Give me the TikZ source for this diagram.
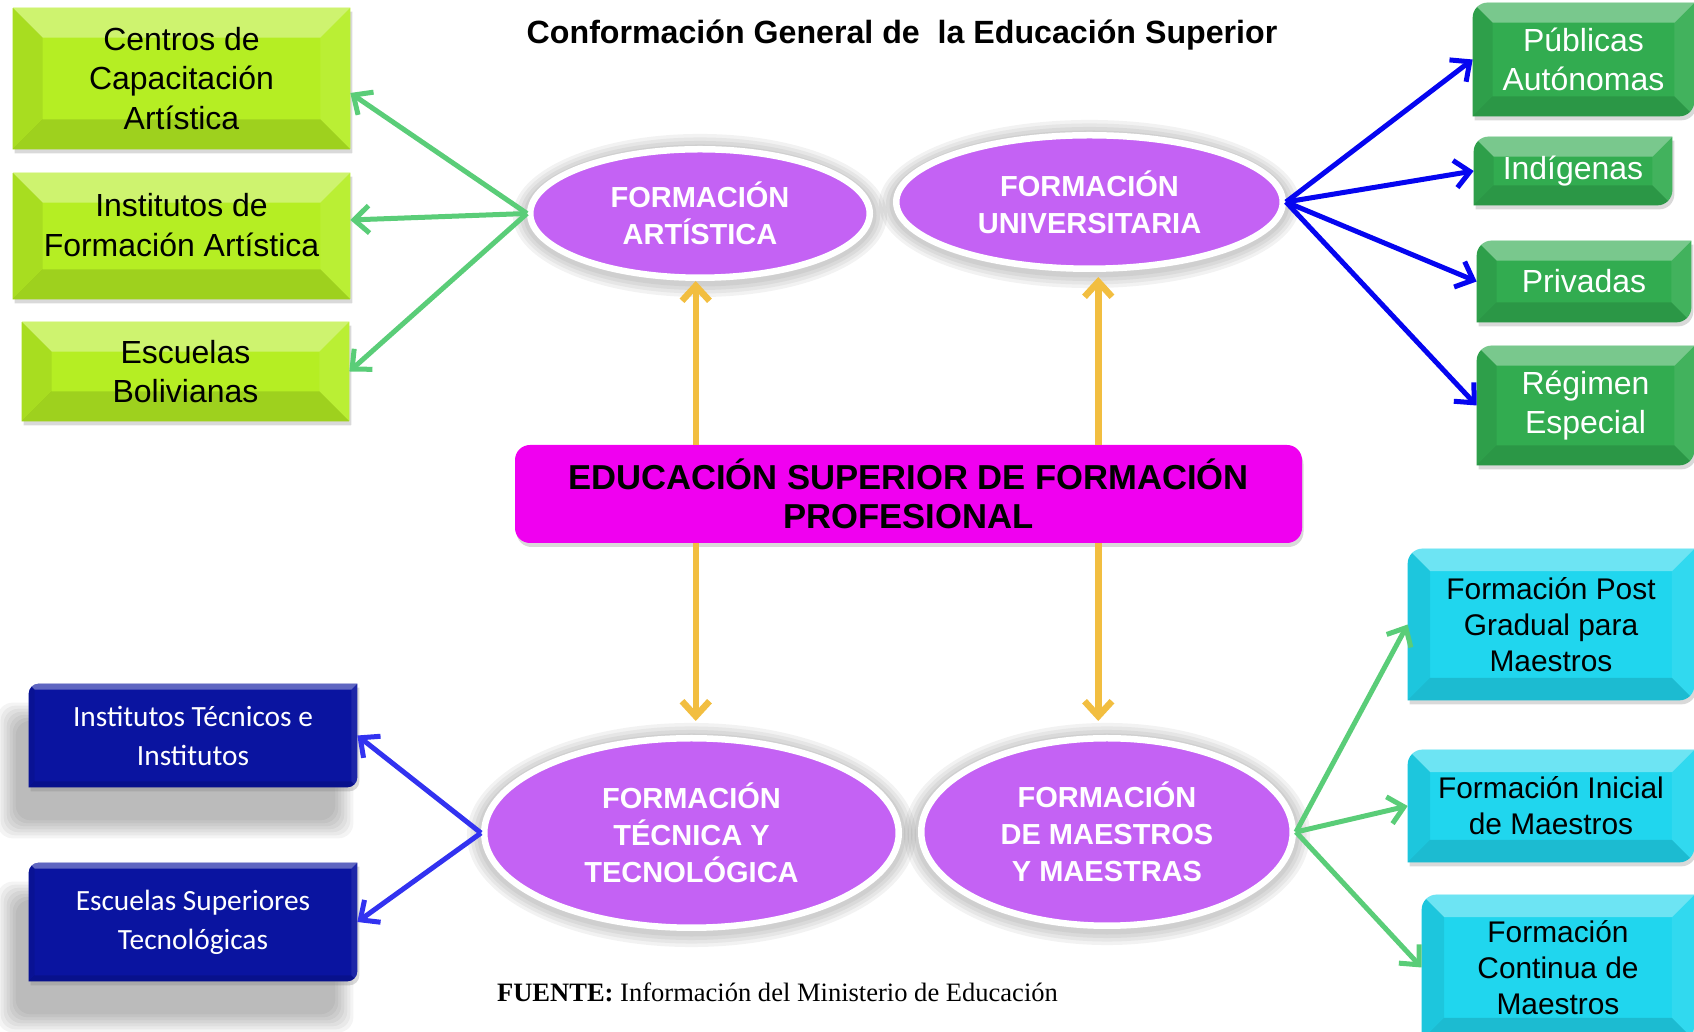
\documentclass[tikz,border=0pt]{standalone}
\usepackage{fontspec}
\setmainfont{Liberation Sans}
\newfontfamily\carlito{Carlito}
\newfontfamily\tnr{Liberation Serif}
\usetikzlibrary{calc}
\usetikzlibrary{shapes, arrows.meta, shadows, backgrounds}

\definecolor{limebox}{RGB}{181,238,35}
\definecolor{grnbox}{RGB}{50,172,80}
\definecolor{cyanbox}{RGB}{32,214,238}
\definecolor{navybox}{RGB}{10,20,160}
\definecolor{purpbox}{RGB}{196,98,244}
\definecolor{magbox}{RGB}{240,0,240}
\definecolor{ylwarr}{RGB}{242,190,64}
\definecolor{grnarr}{RGB}{90,205,120}
\definecolor{bluarr}{RGB}{5,5,240}
\definecolor{bluarrb}{RGB}{50,50,240}

% box outline with rounded north west and south east corners
\newcommand{\rdpath}[2]{($(#1.north west)+(0,-#2)$) arc[start angle=180,end angle=90,radius=#2] -- (#1.north east) -- ($(#1.south east)+(0,#2)$) arc[start angle=0,end angle=-90,radius=#2] -- (#1.south west) -- cycle}
% filled box with a bevel: node, colour, corner radius, bevel depth
\newcommand{\boxpanel}[4]{%
  \fill[#2, drop shadow={opacity=0.3, shadow xshift=0.04cm, shadow yshift=-0.08cm}] \rdpath{#1}{#3};
  \begin{scope}
    \clip \rdpath{#1}{#3};
    \fill[white, opacity=0.35] (#1.north west) -- (#1.north east) -- ++(-#4,-#4) -- ($(#1.north west)+(#4,-#4)$) -- cycle;
    \fill[black, opacity=0.12] (#1.south west) -- (#1.south east) -- ++(-#4,#4) -- ($(#1.south west)+(#4,#4)$) -- cycle;
    \fill[black, opacity=0.07] (#1.north west) -- ++(#4,-#4) -- ($(#1.south west)+(#4,#4)$) -- (#1.south west) -- cycle;
    \fill[white, opacity=0.08] (#1.north east) -- ++(-#4,-#4) -- ($(#1.south east)+(-#4,#4)$) -- (#1.south east) -- cycle;
  \end{scope}}

\tikzset{txt/.style={align=center, inner sep=0pt},
        lg/.style={txt, font=\fontsize{18.2}{22.4}\selectfont},
        gr/.style={txt, text=white, font=\fontsize{18.2}{22.4}\selectfont},
        cy/.style={txt, font=\fontsize{17}{20.5}\selectfont},
        nv/.style={txt, text=white, font=\carlito\fontsize{16.7}{22.2}\selectfont},
        ov/.style={ellipse, inner sep=0pt, fill=purpbox, draw=white, line width=0.13cm, text=white, align=center,
                   font=\bfseries\fontsize{16.5}{20.9}\selectfont},
        arr/.style={line width=0.1cm, -{Straight Barb[length=0.3cm, width=0.55cm]}},
        ga/.style={arr, draw=grnarr},
        ba/.style={arr, draw=bluarr},
        bb/.style={arr, draw=bluarrb},
        ya/.style={arr, line width=0.13cm, draw=ylwarr}}

\begin{document}
\begin{tikzpicture}
    \useasboundingbox (0,0) rectangle (33.88,20.64);

    \node[font=\bfseries\fontsize{18.3}{22}\selectfont] (title) at (18.04,19.94) {Conformación General de\ \ la Educación Superior};

    % left: artistic branch
    \node[lg, minimum width=6.74cm, minimum height=2.82cm] (lg1) at (3.63,19.07) {Centros de\\Capacitación\\Artística};
    \node[lg, minimum width=6.74cm, minimum height=2.52cm] (lg2) at (3.63,15.92) {};
    \node[lg] (lg2t) at ([yshift=0.22cm]lg2.center) {Institutos de\\Formación Artística};
    \node[lg, minimum width=6.54cm, minimum height=1.98cm] (lg3) at (3.71,13.21) {Escuelas\\Bolivianas};

    % right: university branch
    \node[gr, minimum width=4.42cm, minimum height=2.26cm] (pub) at (31.67,19.45) {Públicas\\Autónomas};
    \node[gr, minimum width=3.96cm, minimum height=1.36cm] (ind) at (31.46,17.22) {Indígenas};
    \node[gr, minimum width=4.28cm, minimum height=1.62cm] (pri) at (31.68,15.01) {Privadas};
    \node[gr, minimum width=4.34cm, minimum height=2.38cm] (reg) at (31.71,12.53) {Régimen\\Especial};

    % the four kinds of formation
    \node[ov, minimum width=6.79cm, minimum height=2.57cm] (fa) at (14.00,16.37) {FORMACIÓN\\ARTÍSTICA};
    \node[ov, minimum width=7.73cm, minimum height=2.67cm] (fu) at (21.79,16.60) {FORMACIÓN\\UNIVERSITARIA};
    \node[ov, minimum width=8.29cm, minimum height=3.79cm] (ftt) at (13.83,3.98) {FORMACIÓN\\TÉCNICA Y\\TECNOLÓGICA};
    \node[ov, minimum width=7.43cm, minimum height=3.75cm] (fmm) at (22.14,4.00) {FORMACIÓN\\DE MAESTROS\\Y MAESTRAS};

    \node[txt, fill=magbox, rounded corners=0.3cm, minimum width=15.74cm, minimum height=1.96cm,
          font=\bfseries\fontsize{19.7}{22.2}\selectfont, drop shadow={opacity=0.3, shadow xshift=0.03cm, shadow yshift=-0.08cm}]
          (cen) at (18.17,10.76) {EDUCACIÓN SUPERIOR DE FORMACIÓN\\PROFESIONAL};

    % left: technical branch
    \node[nv, minimum width=6.56cm, minimum height=2.06cm] (bl1) at (3.86,5.93) {Institutos Técnicos e\\Institutos};
    \node[nv, minimum width=6.56cm, minimum height=2.36cm] (bl2) at (3.86,2.20) {Escuelas Superiores\\Tecnológicas};

    % right: teachers branch
    \node[cy, minimum width=5.72cm, minimum height=3.02cm] (cy1) at (31.02,8.15) {Formación Post\\Gradual para\\Maestros};
    \node[cy, minimum width=5.72cm, minimum height=2.24cm] (cy2) at (31.02,4.52) {Formación Inicial\\de Maestros};
    \node[cy, minimum width=5.44cm, minimum height=2.90cm] (cy3) at (31.16,1.29) {Formación\\Continua de\\Maestros};

    \node[font=\tnr\fontsize{15.1}{18}\selectfont] (src) at (15.55,0.80) {\textbf{FUENTE:} Información del Ministerio de Educación};

    % box fills and soft shadows behind the texts
    \begin{scope}[on background layer]
      \foreach \e in {fa, fu, ftt, fmm}
        \foreach \k in {1,...,4}
          \fill[black, opacity=0.05] let \p1 = ($(\e.east)-(\e.west)$), \p2 = ($(\e.north)-(\e.south)$) in
            ($(\e.center)+(0,-0.04)$) ellipse [x radius={0.5*\x1+2pt*\k}, y radius={0.5*\y2+2pt*\k}];
      \foreach \n in {bl1, bl2}
        \foreach \k in {1,...,7}
          \fill[black, opacity=0.045, rounded corners=0.3cm] ($(\n.north west)+(-0.2-0.06*\k,-0.8+0.06*\k)$) rectangle ($(\n.south east)+(-0.5+0.06*\k,-0.6-0.06*\k)$);
      \foreach \n in {lg1, lg2, lg3} {\boxpanel{\n}{limebox}{0.01}{0.6}}
      \foreach \n in {pub, ind, pri, reg} {\boxpanel{\n}{grnbox}{0.3}{0.4}}
      \foreach \n in {cy1, cy2, cy3} {\boxpanel{\n}{cyanbox}{0.3}{0.45}}
      \foreach \n in {bl1, bl2} {\boxpanel{\n}{navybox}{0.2}{0.12}}
    \end{scope}

    % connectors
    \draw[ga] (fa.west) -- ([yshift=-0.29cm]lg1.east);
    \draw[ga] (fa.west) -- ([yshift=0.32cm]lg2.east);
    \draw[ga] (fa.west) -- (lg3.east);
    \foreach \n in {pub, ind, pri, reg}
      \draw[ba] (fu.east) -- (\n.west);
    \foreach \n in {bl1, bl2}
      \draw[bb] (ftt.west) -- (\n.east);
    \foreach \n in {cy1, cy2, cy3}
      \draw[ga] (fmm.east) -- (\n.west);

    \coordinate (axl) at ($(fa.south)!0.5!(ftt.north)$);
    \coordinate (axr) at ($(fu.south)!0.5!(fmm.north)$);
    \draw[ya] (cen.north -| axl) -- (fa.south -| axl);
    \draw[ya, shorten >=0.1cm] (cen.north -| axr) -- (fu.south -| axr);
    \draw[ya, shorten >=0.28cm] (cen.south -| axl) -- (ftt.north -| axl);
    \draw[ya, shorten >=0.28cm] (cen.south -| axr) -- (fmm.north -| axr);
\end{tikzpicture}
\end{document}
